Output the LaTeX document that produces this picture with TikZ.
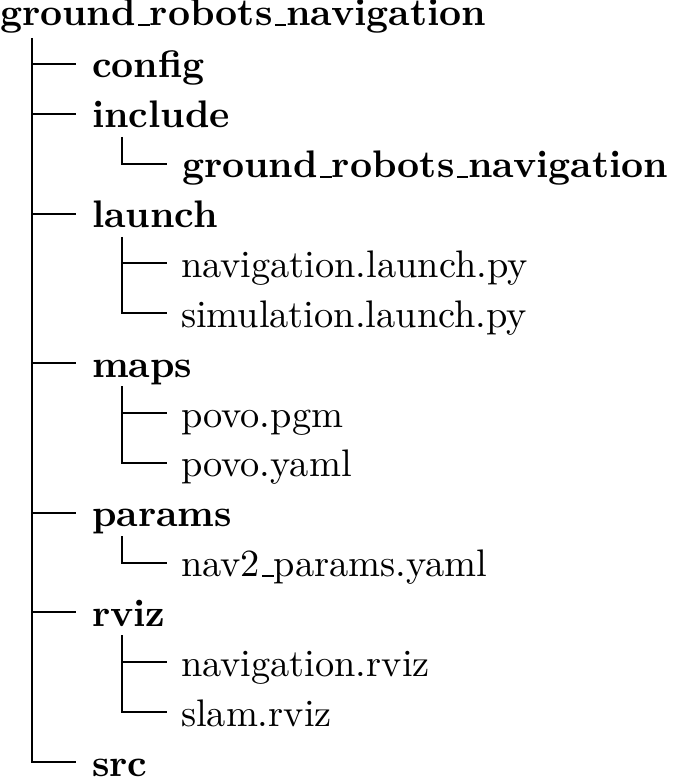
\documentclass[tikz,border=0pt]{standalone}
\newcommand\uscore{\leavevmode\kern.06em\rule{.3em}{.4pt}}
\begin{document}
\begin{tikzpicture}[x=0.25pt,y=-0.25pt,
  treeline/.style={line width=0.5pt,black},
  dirlabel/.style={anchor=base west,inner sep=0pt,outer sep=0pt,font=\fontsize{9.6pt}{11pt}\selectfont\bfseries},
  filelabel/.style={anchor=base west,inner sep=0pt,outer sep=0pt,font=\fontsize{9.6pt}{11pt}\selectfont}]
\useasboundingbox (0,0) rectangle (675,779);
% root
\node[dirlabel] (root) at (0,26) {ground\uscore robots\uscore navigation};
\coordinate (rootv) at (32,38);
% level 1
\node[dirlabel] (config) at (92,78) {config};
\node[dirlabel] (include) at (92,127.9) {include};
\node[dirlabel] (grn) at (182,177.7) {ground\uscore robots\uscore navigation};
\node[dirlabel] (launch) at (92,227.6) {launch};
\node[filelabel] (navlaunch) at (181,277.4) {navigation.launch.py};
\node[filelabel] (simlaunch) at (181,327.3) {simulation.launch.py};
\node[dirlabel] (maps) at (92,377.2) {maps};
\node[filelabel] (pgm) at (181,427) {povo.pgm};
\node[filelabel] (yaml) at (181,476.9) {povo.yaml};
\node[dirlabel] (params) at (92,526.7) {params};
\node[filelabel] (nav2) at (181,576.6) {nav2\uscore params.yaml};
\node[dirlabel] (rviz) at (92,626.5) {rviz};
\node[filelabel] (navrviz) at (181,676.3) {navigation.rviz};
\node[filelabel] (slam) at (181,726.2) {slam.rviz};
\node[dirlabel] (src) at (92,776) {src};
% line ends
\coordinate (config-l) at (76,64);
\coordinate (include-l) at (76,113.86);
\coordinate (launch-l) at (76,213.58);
\coordinate (maps-l) at (76,363.16);
\coordinate (params-l) at (76,512.74);
\coordinate (rviz-l) at (76,612.46);
\coordinate (src-l) at (76,762.04);
\coordinate (grn-l) at (167,163.72);
\coordinate (navlaunch-l) at (167,263.44);
\coordinate (simlaunch-l) at (167,313.3);
\coordinate (pgm-l) at (167,413.02);
\coordinate (yaml-l) at (167,462.88);
\coordinate (nav2-l) at (167,562.6);
\coordinate (navrviz-l) at (167,662.32);
\coordinate (slam-l) at (167,712.18);
% sub-vertical starts
\coordinate (include-v) at (122,137);
\coordinate (launch-v) at (122,237);
\coordinate (maps-v) at (122,386);
\coordinate (params-v) at (122,536);
\coordinate (rviz-v) at (122,635);
% main trunk
\draw[treeline] (rootv) |- (src-l);
\foreach \c in {config,include,launch,maps,params,rviz}
  \draw[treeline] (rootv |- \c-l) -- (\c-l);
% sub trees
\draw[treeline] (include-v) |- (grn-l);
\draw[treeline] (launch-v) |- (simlaunch-l);
\draw[treeline] (launch-v |- navlaunch-l) -- (navlaunch-l);
\draw[treeline] (maps-v) |- (yaml-l);
\draw[treeline] (maps-v |- pgm-l) -- (pgm-l);
\draw[treeline] (params-v) |- (nav2-l);
\draw[treeline] (rviz-v) |- (slam-l);
\draw[treeline] (rviz-v |- navrviz-l) -- (navrviz-l);
\end{tikzpicture}
\end{document}
